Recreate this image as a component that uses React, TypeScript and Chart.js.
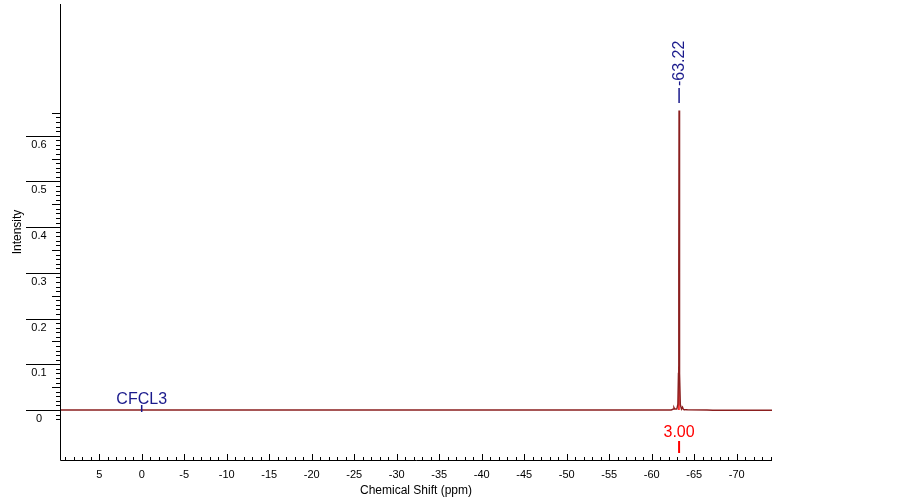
import React, { useEffect, useRef } from "react";
import { Chart, registerables } from "chart.js";

Chart.register(...registerables);

// Spectrum (chemical shift in ppm, intensity)
const spectrumShift = [9.61, -40.0, -62.3, -62.55, -62.62, -62.7, -62.95, -63.08, -63.15, -63.19, -63.22, -63.25, -63.29, -63.36, -63.5, -63.62, -63.7, -63.78, -64.2, -66.5, -67.2, -69.0, -71.0, -73.0, -74.15];
const spectrumIntensity = [0, 0, 0, 0.002, 0.005, 0.002, 0.002, 0.012, 0.08, 0.3, 0.655, 0.3, 0.08, 0.012, 0.002, 0.006, 0.002, 0.001, 0.0005, 0, -0.0005, -0.0007, -0.0005, -0.0007, -0.0005];

// Integral trace drawn over the peak foot
const integralShift = [-63.2, -63.22, -63.24];
const integralValue = [0, 0.095, 0.095];

// Axis ranges and ticks
const xRange = { min: -74.15, max: 9.61 };
const yRange = { min: -0.1094, max: 0.888 };
const xMajorTicks = [5, 0, -5, -10, -15, -20, -25, -30, -35, -40, -45, -50, -55, -60, -65, -70];
const xMinorFrom = 9;
const xMinorTo = -74;
const yMajorTicks = [0, 0.1, 0.2, 0.3, 0.4, 0.5, 0.6];
const yMinorFrom = -0.02;
const yMinorTo = 0.65;

// Annotations
const peakLabel = "-63.22";
const peakShift = -63.22;
const referenceLabel = "CFCL3";
const referenceShift = 0;
const integralLabel = "3.00";

const FONT = "'Liberation Sans', Arial, sans-serif";
const BLUE = "#1a1a8c";
const SPEC = "#8b1f1f";
const RED = "#ff0000";

const nmrPlugin = {
  id: "nmrAxes",
  afterDraw(chart: any) {
    const ctx = chart.ctx as CanvasRenderingContext2D;
    const { left, right, top, bottom } = chart.chartArea;
    const x = chart.scales.x;
    const y = chart.scales.y;
    ctx.save();
    ctx.strokeStyle = "#000";
    ctx.fillStyle = "#000";
    ctx.lineWidth = 1;

    // axis lines
    ctx.beginPath();
    ctx.moveTo(left + 0.5, top);
    ctx.lineTo(left + 0.5, bottom + 0.5);
    ctx.lineTo(right, bottom + 0.5);
    ctx.stroke();

    // y minor ticks
    ctx.beginPath();
    for (let i = Math.round(yMinorFrom * 100); i <= Math.round(yMinorTo * 100); i++) {
      const v = i / 100;
      const py = Math.round(y.getPixelForValue(v)) + 0.5;
      const len = i % 5 === 0 ? 8 : 4;
      ctx.moveTo(left, py);
      ctx.lineTo(left - len, py);
    }
    ctx.stroke();

    // y major ticks + labels
    ctx.font = `11px ${FONT}`;
    ctx.textAlign = "center";
    ctx.textBaseline = "alphabetic";
    ctx.beginPath();
    for (const v of yMajorTicks) {
      const py = Math.round(y.getPixelForValue(v)) + 0.5;
      ctx.moveTo(left, py);
      ctx.lineTo(left - 34, py);
    }
    ctx.stroke();
    for (const v of yMajorTicks) {
      const py = y.getPixelForValue(v);
      ctx.fillText(v === 0 ? "0" : v.toFixed(1), left - 21, py + 12);
    }

    // x ticks
    ctx.beginPath();
    for (let p = xMinorFrom; p >= xMinorTo; p--) {
      const px = Math.round(x.getPixelForValue(p)) + 0.5;
      const len = p % 5 === 0 ? 6 : 3;
      ctx.moveTo(px, bottom);
      ctx.lineTo(px, bottom - len);
    }
    ctx.stroke();
    for (const p of xMajorTicks) {
      const px = x.getPixelForValue(p);
      ctx.fillText(String(p), px, bottom + 17.5);
    }

    // axis titles
    ctx.font = `12px ${FONT}`;
    ctx.fillText("Chemical Shift (ppm)", (left + right) / 2, bottom + 34);
    ctx.save();
    ctx.translate(21, (top + bottom) / 2);
    ctx.rotate(-Math.PI / 2);
    ctx.fillText("Intensity", 0, 0);
    ctx.restore();

    // peak label
    const pk = x.getPixelForValue(peakShift);
    ctx.fillStyle = BLUE;
    ctx.strokeStyle = BLUE;
    ctx.lineWidth = 1.5;
    ctx.beginPath();
    ctx.moveTo(pk, 88);
    ctx.lineTo(pk, 103);
    ctx.stroke();
    ctx.save();
    ctx.translate(pk + 5, 86);
    ctx.rotate(-Math.PI / 2);
    ctx.font = `16px ${FONT}`;
    ctx.textAlign = "left";
    ctx.fillText(peakLabel, 0, 0);
    ctx.restore();

    // reference label
    const rf = x.getPixelForValue(referenceShift);
    const y0 = y.getPixelForValue(0);
    ctx.beginPath();
    ctx.moveTo(rf, y0 - 5);
    ctx.lineTo(rf, y0 + 2);
    ctx.stroke();
    ctx.font = `16px ${FONT}`;
    ctx.textAlign = "center";
    ctx.fillText(referenceLabel, rf, y0 - 6);

    // integral label
    ctx.fillStyle = RED;
    ctx.strokeStyle = RED;
    ctx.lineWidth = 2;
    ctx.fillText(integralLabel, pk, y0 + 27);
    ctx.beginPath();
    ctx.moveTo(pk, y0 + 31);
    ctx.lineTo(pk, y0 + 43);
    ctx.stroke();

    ctx.restore();
  },
};

export default function App() {
  const ref = useRef<HTMLCanvasElement>(null);
  useEffect(() => {
    document.body.style.margin = "0";
    const canvas = ref.current!;
    const chart = new Chart(canvas, {
      type: "scatter",
      data: {
        datasets: [
          {
            data: spectrumShift.map((s, i) => ({ x: s, y: spectrumIntensity[i] })),
            showLine: true,
            borderColor: SPEC,
            borderWidth: 1.5,
            pointRadius: 0,
            tension: 0,
          },
          {
            data: integralShift.map((s, i) => ({ x: s, y: integralValue[i] })),
            showLine: true,
            borderColor: RED,
            borderWidth: 1.5,
            pointRadius: 0,
          },
        ],
      },
      options: {
        animation: false,
        responsive: false,
        events: [],
        layout: { padding: { left: 60, right: 130, top: 4, bottom: 39 } },
        plugins: { legend: { display: false }, tooltip: { enabled: false } },
        scales: {
          x: { type: "linear", reverse: true, min: xRange.min, max: xRange.max, display: false },
          y: { type: "linear", min: yRange.min, max: yRange.max, display: false },
        },
      },
      plugins: [nmrPlugin],
    });
    return () => chart.destroy();
  }, []);
  return (
    <div style={{ width: 902, height: 499, background: "#fff" }}>
      <canvas ref={ref} width={902} height={499} />
    </div>
  );
}
